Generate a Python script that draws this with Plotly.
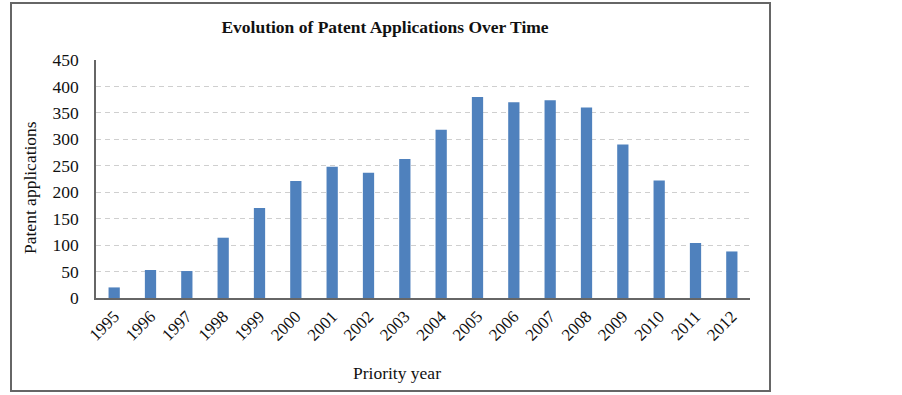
import plotly.graph_objects as go

years = [str(y) for y in range(1995, 2013)]
applications = [20, 53, 51, 114, 170, 221, 248, 237, 263, 318, 380, 370, 374, 360, 290, 222, 104, 88]
y_ticks = [0, 50, 100, 150, 200, 250, 300, 350, 400, 450]

W, H = 902, 395
L, R, T, B = 96, 750, 60, 298

fig = go.Figure(go.Bar(x=years, y=applications, marker=dict(color="#4f81bd", line=dict(width=0)),
                       width=0.31))

font_fam = "Liberation Serif, Times New Roman, serif"
pw, ph = R - L, B - T
fig.update_layout(
    width=W, height=H,
    margin=dict(l=L, r=W - R, t=T, b=H - B, autoexpand=False),
    paper_bgcolor="white", plot_bgcolor="white",
    font=dict(family=font_fam, size=17, color="#111"),
    title=dict(text="<b>Evolution of Patent Applications Over Time</b>", x=385 / W, xanchor="center",
               y=1 - 27 / H, yanchor="middle", font=dict(size=17.5, family=font_fam, color="#111")),
    showlegend=False,
    bargap=0.7,
    xaxis=dict(type="category", tickangle=-45, showline=True, linecolor="#666", linewidth=1.5,
               showgrid=False, ticks="", tickfont=dict(size=17), fixedrange=True),
    yaxis=dict(range=[0, 450], tickvals=y_ticks, showline=True, linecolor="#666", linewidth=1.5,
               showgrid=True, gridcolor="#cfcfcf", griddash="5px,4px", gridwidth=1,
               ticks="outside", ticklen=12, tickcolor="rgba(0,0,0,0)", tickfont=dict(size=17.5),
               zeroline=False, fixedrange=True),
    annotations=[
        dict(text="Priority year", xref="paper", yref="paper", x=(397 - L) / pw, y=(B - 373) / ph,
             xanchor="center", yanchor="middle", showarrow=False, font=dict(size=17.5)),
        dict(text="Patent applications", xref="paper", yref="paper", x=(30 - L) / pw, y=(B - 188) / ph,
             xanchor="center", yanchor="middle", showarrow=False, textangle=-90, font=dict(size=17.5)),
    ],
)

fig.add_shape(type="rect", xref="paper", yref="paper",
              x0=(11 - L) / pw, x1=(770 - L) / pw, y0=(B - 391) / ph, y1=(B - 3) / ph,
              line=dict(color="#666", width=2), fillcolor="rgba(0,0,0,0)", layer="below")

fig.write_html("out.html", config={"displayModeBar": False},
               post_script="document.body.style.margin='0';")
